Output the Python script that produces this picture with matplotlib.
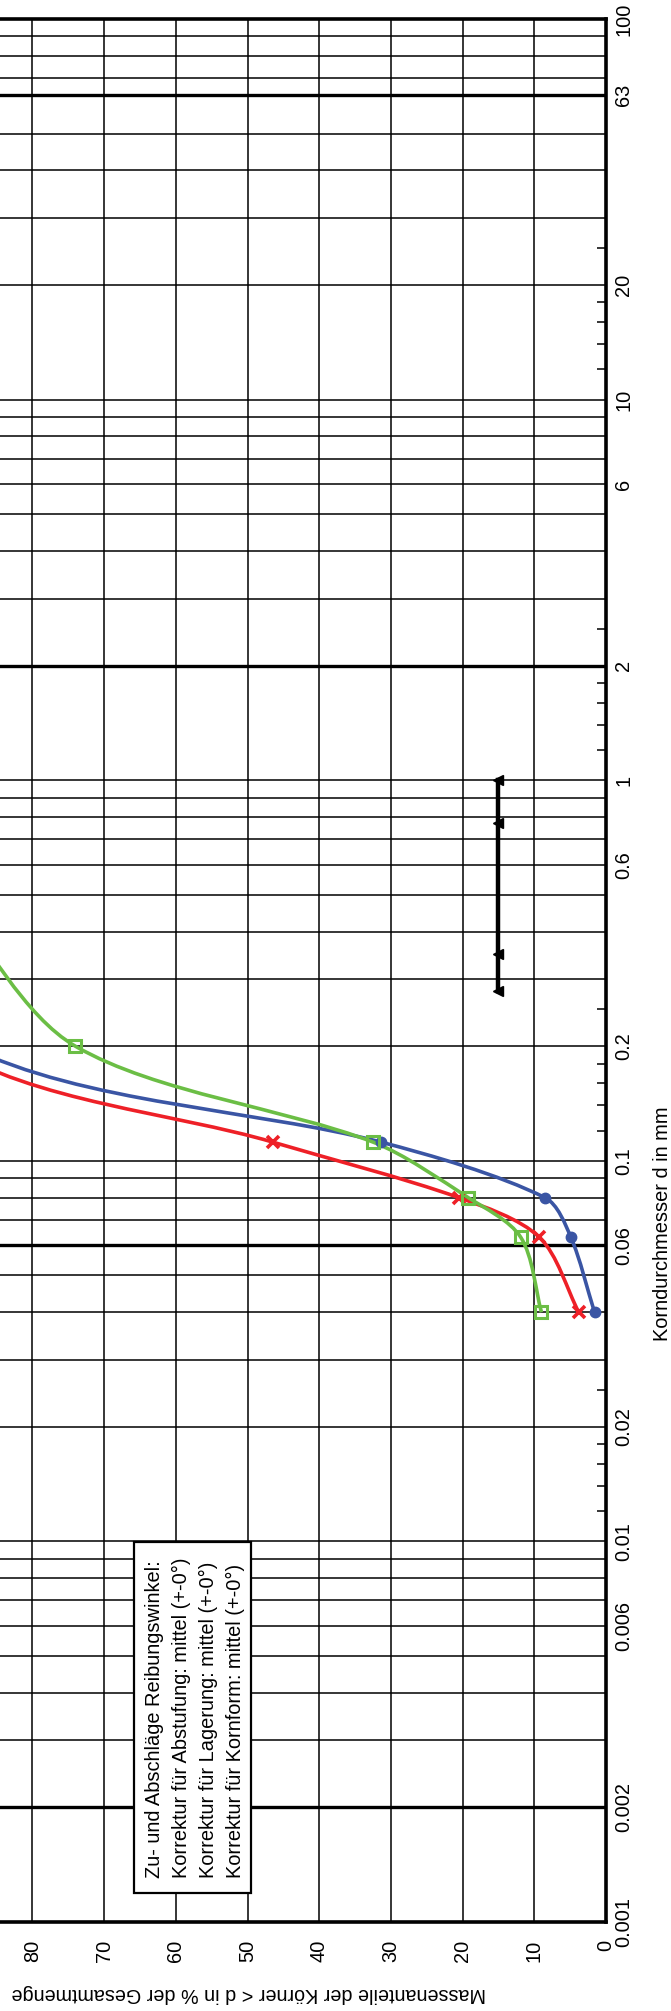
import numpy as np
import matplotlib.pyplot as plt
from matplotlib.path import Path
from matplotlib.patches import PathPatch, Rectangle
from matplotlib.ticker import NullFormatter

plt.rcParams['font.family'] = ['Liberation Sans', 'DejaVu Sans']

# measured grain size distribution (d in mm, passing in %)
d_pts = [0.04, 0.063, 0.08, 0.112, 0.2, 0.5]
pct_blue = [1.6, 4.9, 8.5, 31.4, 89, 100]
pct_red = [3.8, 9.3, 20.5, 46.5, 92, 100]
pct_green = [9.0, 11.9, 19.2, 32.5, 74, 92]

# range bar (black, with triangles)
bar_d = [0.28, 0.35, 0.77, 1.0]
bar_pct = [15, 15, 15, 15]

# axis scaling
pct_grid = [10, 20, 30, 40, 50, 60, 70, 80, 90]
pct_ticks = [0, 10, 20, 30, 40, 50, 60, 70, 80]
d_labels = [0.001, 0.002, 0.006, 0.01, 0.02, 0.06, 0.1, 0.2, 0.6, 1, 2, 6, 10, 20, 63, 100]
d_label_txt = ['0.001', '0.002', '0.006', '0.01', '0.02', '0.06', '0.1', '0.2', '0.6',
               '1', '2', '6', '10', '20', '63', '100']
d_grid = [0.003, 0.004, 0.005, 0.006, 0.007, 0.008, 0.009, 0.01,
          0.02, 0.03, 0.04, 0.05, 0.07, 0.08, 0.09, 0.1,
          0.2, 0.3, 0.4, 0.5, 0.6, 0.7, 0.8, 0.9, 1,
          3, 4, 5, 6, 7, 8, 9, 10,
          20, 30, 40, 50, 70, 80, 90]
d_bold = [0.002, 0.06, 2, 63]
d_minor = [0.012, 0.014, 0.016, 0.018, 0.025,
           0.12, 0.14, 0.16, 0.18, 0.25,
           1.2, 1.4, 1.6, 1.8, 2.5,
           12, 14, 16, 18, 25]

box_lines = ['Zu- und Abschläge Reibungswinkel:',
             'Korrektur für Abstufung: mittel (+-0°)',
             'Korrektur für Lagerung: mittel (+-0°)',
             'Korrektur für Kornform: mittel (+-0°)']

W, H = 671, 2011
fig = plt.figure(figsize=(W / 100, H / 100), dpi=100)
# the chart is cut off on the left, 100 % lies outside the picture
ax = fig.add_axes([-111 / W, 89 / H, 717 / W, 1903 / H])
ax.set_yscale('log')
ax.set_xlim(100, 0)
ax.set_ylim(0.001, 100)

for p in pct_grid:
    ax.axvline(p, color='black', lw=1.1, zorder=1)
for d in d_grid:
    ax.axhline(d, color='black', lw=1.1, zorder=1)
for d in d_bold:
    ax.axhline(d, color='black', lw=2.4, zorder=1)

for s in ['top', 'right', 'bottom']:
    ax.spines[s].set_linewidth(2.6)
ax.spines['left'].set_visible(False)

# pixel scale of the two axes, used only to shape the smoothing
SX, SY = 7.17, 380.6


def smooth_path(x, y, k=0.3):
    # Bezier smoothing like the spreadsheet, tangent lengths tied to segment length
    px = np.asarray(x, float) * SX
    py = np.log10(np.asarray(y, float)) * SY
    pts = np.column_stack([px, py])
    n = len(pts)
    tang = []
    for i in range(n):
        v = pts[min(i + 1, n - 1)] - pts[max(i - 1, 0)]
        tang.append(v / np.hypot(*v))
    verts = [pts[0]]
    codes = [Path.MOVETO]
    for i in range(n - 1):
        L = np.hypot(*(pts[i + 1] - pts[i]))
        verts += [pts[i] + tang[i] * L * k, pts[i + 1] - tang[i + 1] * L * k, pts[i + 1]]
        codes += [Path.CURVE4] * 3
    verts = [(a / SX, 10 ** (b / SY)) for a, b in verts]
    return Path(verts, codes)


series = [(pct_blue, '#3A55A4', dict(marker='o', ms=7.5, mfc='#3A55A4', mec='#3A55A4')),
          (pct_red, '#EE2027', dict(marker='x', ms=9, mew=2.6, mec='#EE2027')),
          (pct_green, '#6BBE45', dict(marker='s', ms=8.5, mew=2.2, mfc='none', mec='#6BBE45'))]
for vals, col, mk in series:
    ax.add_patch(PathPatch(smooth_path(vals, d_pts), fill=False, ec=col, lw=2.6,
                           zorder=3, transform=ax.transData, clip_on=True))
    ax.plot(vals, d_pts, ls='none', zorder=4, **mk)

ax.plot(bar_pct, bar_d, color='black', lw=3.2, marker='<', ms=6.5, zorder=4)

ax.set_xticks(pct_ticks)
ax.set_xticklabels([str(p) for p in pct_ticks])
ax.tick_params(axis='x', length=0, pad=13, labelrotation=90, labelsize=14.4)

ax.yaxis.tick_right()
ax.set_yticks(d_labels)
ax.set_yticklabels(d_label_txt)
ax.set_yticks(d_minor, minor=True)
ax.yaxis.set_minor_formatter(NullFormatter())
ax.tick_params(axis='y', which='major', length=0, pad=6, labelrotation=90, labelsize=14.4)
ax.tick_params(axis='y', which='minor', direction='in', length=6.5, width=1.1)
for lab in ax.get_yticklabels():
    lab.set_va('center')

# note box
fig.patches.append(Rectangle((134 / W, 1 - 1893 / H), 117 / W, 351 / H,
                             transform=fig.transFigure, fc='white', ec='black', lw=1.6))
for i, txt in enumerate(box_lines):
    fig.text((155 + i * 26.7) / W, 1 - 1878 / H, txt, rotation=90, ha='center', va='bottom',
             fontsize=14.4)

fig.text(249 / W, 1 - 1994 / H, 'Massenanteile der Körner < d in % der Gesamtmenge',
         rotation=180, ha='center', va='center', fontsize=14.2)
fig.text(662 / W, 1 - 1224 / H, 'Korndurchmesser d in mm', rotation=90,
         ha='center', va='center', fontsize=14.4)

fig.savefig('out.png', dpi=100)
